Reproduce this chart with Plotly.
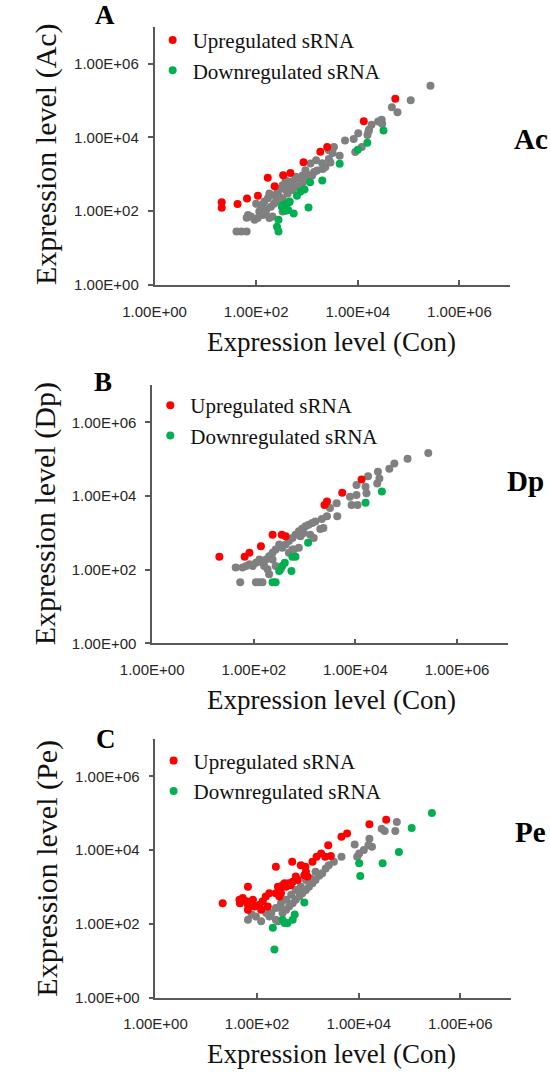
import plotly.graph_objects as go

W, H = 550, 1079

# ---------------- data (Con expression vs treatment expression) ----------------
tick_vals = [1, 100, 1e4, 1e6]
tick_labels = ["1.00E+00", "1.00E+02", "1.00E+04", "1.00E+06"]

# Panel A : Ac
a_up_x = [21, 21, 43, 66, 108, 169, 231, 340, 472, 855, 1830, 2500, 13100, 54700]
a_up_y = [173, 124, 155, 221, 262, 800, 475, 940, 1090, 2110, 4090, 5470, 27500, 112000]
a_down_x = [32000, 15400, 10000, 4400, 2000, 1150, 893, 738, 634, 1070, 547,
            320, 398, 457, 347, 427, 275, 257, 275, 380, 331, 447]
a_down_y = [15300, 7140, 4630, 1940, 676, 610, 387, 335, 262, 126, 86,
            132, 162, 182, 107, 107, 58, 38, 28, 103, 147, 174]
a_other_x = [269000, 110000, 46800, 60300, 29500, 30200, 25100, 18600, 16600, 15500, 16200,
             10200, 8300, 5600, 12000, 8900, 4400, 3200, 2700, 2900, 2300, 2040, 1510, 1175,
             1380, 933, 813, 692, 603, 513, 447, 380, 331, 309, 263, 229, 182, 170, 145, 135,
             126, 115, 107, 93, 79, 69, 65, 155, 195, 245, 331, 417, 513, 646, 813, 1100, 1260,
             331, 209, 182, 135, 41, 51, 65, 2700, 3390, 100, 158, 224, 282, 398, 562, 794,
             1000, 1585, 1995]
a_other_y = [251000, 102000, 66100, 47900, 30200, 23400, 26900, 21900, 16200, 11700, 14500,
             12900, 9100, 8300, 5500, 4000, 3200, 3800, 2600, 2100, 1580, 1380, 2400, 1950,
             1150, 1290, 933, 759, 851, 646, 562, 692, 501, 407, 331, 269, 302, 224, 182, 148,
             120, 98, 65, 58, 71, 79, 66, 98, 132, 182, 224, 302, 372, 457, 562, 759, 933,
             98, 71, 65, 79, 28, 28, 28, 4470, 5500, 158, 112, 158, 251, 355, 501, 708,
             1000, 1259, 1995]

# Panel B : Dp
b_up_x = [21, 66, 82, 138, 234, 355, 423, 2460, 2750, 5500, 13200]
b_up_y = [225, 225, 288, 437, 894, 894, 813, 5750, 7080, 12300, 28200]
b_down_x = [33100, 15800, 1170, 661, 575, 407, 363, 316, 550, 234, 269]
b_down_y = [13200, 6610, 537, 225, 225, 155, 126, 93, 93, 46, 46]
b_other_x = [271000, 106000, 58300, 46400, 27700, 29600, 26800, 17700, 15800, 16500, 10500,
             10500, 7800, 8400, 11000, 4270, 4390, 3160, 2750, 2180, 2340, 2030, 1620, 1410,
             1200, 1040, 890, 770, 661, 575, 490, 423, 363, 1510, 1290, 955, 830, 770, 575,
             316, 269, 234, 200, 174, 148, 186, 200, 160, 129, 110, 95, 82, 71, 60, 44, 54,
             110, 129, 148, 234, 269, 339, 490, 617]
b_other_y = [147000, 103000, 75700, 55300, 45500, 30100, 21800, 34500, 17800, 11800, 19800,
             10700, 9600, 5750, 5750, 6340, 2810, 4700, 2810, 2380, 1350, 1280, 2050, 1860,
             1670, 1510, 1290, 1100, 894, 727, 598, 486, 395, 727, 894, 1000, 813, 395, 355,
             486, 355, 288, 234, 191, 155, 103, 76, 126, 191, 155, 126, 141, 126, 115, 115, 46,
             46, 46, 46, 191, 126, 103, 288, 355]

# Panel C : Pe
c_up_x = [21, 45, 46, 52, 62, 66, 66, 66, 83, 89, 112, 120, 129, 148, 174, 162, 234,
          234, 257, 282, 316, 347, 372, 417, 457, 501, 275, 295, 490, 575, 631, 724, 891,
          912, 977, 851, 1230, 1480, 1820, 2190, 2510, 2820, 4570, 5890, 16200, 34700]
c_up_y = [363, 447, 363, 501, 407, 331, 1020, 240, 447, 295, 331, 240, 407, 550, 676, 295,
          3550, 676, 1020, 832, 1120, 1260, 1020, 1260, 1120, 1380, 550, 676, 4790, 1910,
          1550, 3890, 3550, 2570, 1910, 2090, 4790, 6610, 8130, 6610, 13500, 6920, 22900,
          28200, 50100, 66100]
c_down_x = [275000, 110000, 61700, 29500, 10200, 10700, 851, 550, 501, 398, 316, 347, 204, 219]
c_down_y = [102000, 39800, 8910, 4370, 4370, 1990, 380, 178, 129, 105, 129, 105, 78, 20]
c_other_x = [56200, 28200, 32400, 52500, 16200, 15500, 18200, 12600, 10200, 8320, 9330, 4570,
             3240, 2570, 2240, 1910, 1660, 1410, 1230, 1050, 912, 776, 676, 575, 501, 427,
             372, 316, 1410, 1150, 912, 724, 575, 468, 372, 295, 234, 191, 151, 120, 95, 78,
             66, 234, 174, 316, 257]
c_other_y = [57500, 38000, 33100, 33100, 20400, 13500, 12300, 10000, 8130, 14100, 6610, 6610,
             4790, 3890, 3160, 2340, 2000, 1550, 1260, 1020, 832, 676, 550, 447, 363, 295,
             240, 195, 2570, 1700, 1550, 1020, 832, 617, 447, 363, 269, 195, 195, 117, 158,
             178, 129, 129, 158, 240, 117]

panels = [
    dict(up=(a_up_x, a_up_y), down=(a_down_x, a_down_y), other=(a_other_x, a_other_y),
         ytitle="Expression level (Ac)", letter="A", tag="Ac"),
    dict(up=(b_up_x, b_up_y), down=(b_down_x, b_down_y), other=(b_other_x, b_other_y),
         ytitle="Expression level (Dp)", letter="B", tag="Dp"),
    dict(up=(c_up_x, c_up_y), down=(c_down_x, c_down_y), other=(c_other_x, c_other_y),
         ytitle="Expression level (Pe)", letter="C", tag="Pe"),
]

# ---------------- layout geometry (pixels) ----------------
geo = [
    dict(x0=130.1, x1=507.8, y0=27.0, y1=287.0, xt_y=345, yt_y=155, yt_x=15,
         let_xy=(77, 15), tag_xy=(530, 140), leg_y=34),
    dict(x0=127.6, x1=505.3, y0=388.3, y1=648.3, xt_y=705, yt_y=518, yt_x=14,
         let_xy=(75, 385), tag_xy=(524, 485), leg_y=402),
    dict(x0=131.1, x1=508.8, y0=745.0, y1=1005.0, xt_y=1062, yt_y=875, yt_x=15,
         let_xy=(79, 745), tag_xy=(529, 838), leg_y=760),
]

def px(x):
    return x / W

def py(y):
    return 1 - y / H

RED, GREEN, GREY = "#FF0000", "#00B050", "#808080"
AX = "#595959"
SERIF = "Liberation Serif"
MS = 8

fig = go.Figure()
layout = dict(width=W, height=H, margin=dict(l=0, r=0, t=0, b=0),
              paper_bgcolor="white", plot_bgcolor="white", annotations=[])

for i, (p, g) in enumerate(zip(panels, geo)):
    n = "" if i == 0 else str(i + 1)
    xa, ya = "x" + n, "y" + n
    leg = "legend" + n
    fig.add_trace(go.Scatter(x=p["other"][0], y=p["other"][1], mode="markers",
                             marker=dict(color=GREY, size=MS), xaxis=xa, yaxis=ya,
                             showlegend=False, hoverinfo="skip"))
    fig.add_trace(go.Scatter(x=p["up"][0], y=p["up"][1], mode="markers",
                             marker=dict(color=RED, size=MS), xaxis=xa, yaxis=ya,
                             name="Upregulated sRNA", legend=leg))
    fig.add_trace(go.Scatter(x=p["down"][0], y=p["down"][1], mode="markers",
                             marker=dict(color=GREEN, size=MS), xaxis=xa, yaxis=ya,
                             name="Downregulated sRNA", legend=leg))

    common = dict(type="log", range=[0, 7], showline=True, linecolor=AX, linewidth=1.5,
                  tickvals=tick_vals, ticktext=tick_labels, ticklen=5, tickcolor=AX,
                  tickwidth=1.5, showgrid=False, zeroline=False,
                  tickfont=dict(family="Liberation Sans", size=15, color="#262626"))
    layout["xaxis" + n] = dict(common, domain=[px(g["x0"]), px(g["x1"])], anchor=ya,
                               ticks="inside", ticklabelstandoff=12)
    layout["yaxis" + n] = dict(common, domain=[py(g["y1"]), py(g["y0"])], anchor=xa,
                               ticks="outside", ticklabelstandoff=6)
    layout[leg] = dict(x=px(g["x0"] - 2), y=py(g["leg_y"] - 14), xanchor="left", yanchor="top",
                       bgcolor="rgba(0,0,0,0)", font=dict(family=SERIF, size=21, color="#111"),
                       itemwidth=30, tracegroupgap=0)

    ann = layout["annotations"]
    ann.append(dict(x=px(318), y=py(g["xt_y"]), xref="paper", yref="paper",
                    text="Expression level (Con)", showarrow=False, xanchor="center",
                    yanchor="middle", font=dict(family=SERIF, size=27, color="#111")))
    ann.append(dict(x=px(g["yt_x"]), y=py(g["yt_y"]), xref="paper", yref="paper",
                    text=p["ytitle"], showarrow=False, textangle=-90, xanchor="center",
                    yanchor="middle", font=dict(family=SERIF, size=30, color="#111")))
    ann.append(dict(x=px(g["let_xy"][0]), y=py(g["let_xy"][1]), xref="paper", yref="paper",
                    text="<b>%s</b>" % p["letter"], showarrow=False, xanchor="center",
                    yanchor="middle", font=dict(family=SERIF, size=27, color="#000")))
    ann.append(dict(x=px(g["tag_xy"][0]), y=py(g["tag_xy"][1]), xref="paper", yref="paper",
                    text="<b>%s</b>" % p["tag"], showarrow=False, xanchor="center",
                    yanchor="middle", font=dict(family=SERIF, size=29, color="#000")))

fig.update_layout(**layout)
fig.write_html("out.html", config={"displayModeBar": False},
               post_script="document.body.style.margin='0';"
                           "document.documentElement.style.overflow='hidden';"
                           "document.body.style.overflow='hidden';")
